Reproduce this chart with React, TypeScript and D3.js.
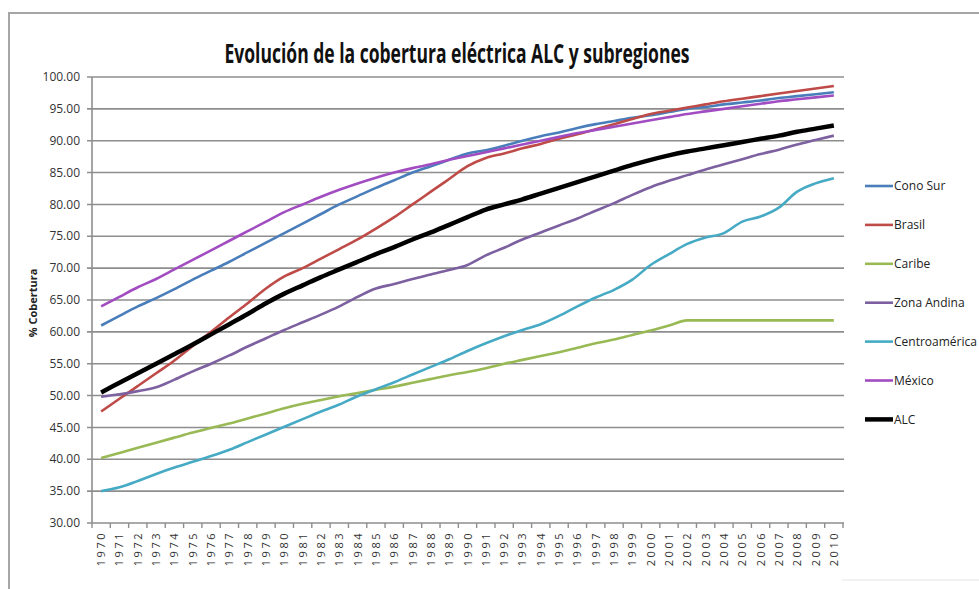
import { useRef, useEffect } from 'react';
import * as d3 from 'd3';

// Años (eje X)
const years = d3.range(1970, 2011);

// Valores de cobertura por subregión (%)
const conoSur = [61, 62.5, 64, 65.3, 66.7, 68.2, 69.6, 71, 72.5, 74, 75.5, 77, 78.5, 80, 81.3, 82.6, 83.8, 85, 86, 87, 88, 88.5, 89.2, 90, 90.7, 91.3, 92, 92.6, 93.1, 93.6, 94, 94.5, 95, 95.3, 95.7, 96, 96.3, 96.7, 97, 97.3, 97.6];
const brasil = [47.5, 49.5, 51.5, 53.5, 55.5, 57.8, 60, 62.3, 64.5, 66.8, 68.7, 70, 71.5, 73, 74.5, 76.2, 78, 80, 82, 84, 86, 87.3, 88, 88.8, 89.5, 90.3, 91, 91.8, 92.6, 93.4, 94.2, 94.7, 95.2, 95.7, 96.2, 96.6, 97, 97.4, 97.8, 98.2, 98.6];
const caribe = [40.2, 41, 41.8, 42.6, 43.4, 44.2, 44.9, 45.6, 46.4, 47.2, 48, 48.7, 49.3, 49.9, 50.4, 50.9, 51.4, 52, 52.6, 53.2, 53.7, 54.3, 55, 55.6, 56.2, 56.8, 57.5, 58.2, 58.8, 59.5, 60.2, 61, 61.8, 61.8, 61.8, 61.8, 61.8, 61.8, 61.8, 61.8, 61.8];
const zonaAndina = [49.8, 50.2, 50.7, 51.3, 52.5, 53.8, 55, 56.3, 57.7, 59, 60.3, 61.5, 62.7, 64, 65.5, 66.8, 67.5, 68.3, 69, 69.7, 70.5, 72, 73.2, 74.5, 75.6, 76.7, 77.8, 79, 80.2, 81.5, 82.7, 83.7, 84.6, 85.5, 86.3, 87.1, 87.9, 88.6, 89.4, 90.1, 90.8];
const centroamerica = [35, 35.6, 36.6, 37.7, 38.7, 39.6, 40.5, 41.5, 42.7, 43.9, 45.1, 46.3, 47.5, 48.6, 49.9, 51, 52.1, 53.3, 54.5, 55.7, 57, 58.2, 59.3, 60.3, 61.2, 62.5, 64, 65.4, 66.6, 68.2, 70.5, 72.2, 73.8, 74.8, 75.5, 77.3, 78.1, 79.5, 82, 83.3, 84.1];
const mexico = [64, 65.5, 67, 68.3, 69.8, 71.3, 72.8, 74.3, 75.8, 77.3, 78.8, 80, 81.2, 82.3, 83.3, 84.2, 85, 85.7, 86.3, 87, 87.6, 88.2, 88.8, 89.4, 90, 90.6, 91.2, 91.7, 92.2, 92.7, 93.2, 93.7, 94.2, 94.6, 95, 95.4, 95.8, 96.2, 96.5, 96.8, 97.1];
const alc = [50.5, 52, 53.5, 55, 56.5, 58, 59.6, 61.2, 62.8, 64.5, 66, 67.3, 68.6, 69.8, 71, 72.2, 73.3, 74.5, 75.6, 76.8, 78, 79.2, 80, 80.8, 81.7, 82.6, 83.5, 84.4, 85.3, 86.2, 87, 87.7, 88.3, 88.8, 89.3, 89.8, 90.3, 90.8, 91.4, 91.9, 92.4];

const seriesNames = ['Cono Sur', 'Brasil', 'Caribe', 'Zona Andina', 'Centroamérica', 'México', 'ALC'];
const seriesValues = [conoSur, brasil, caribe, zonaAndina, centroamerica, mexico, alc];
const seriesColors = ['#4a7ebb', '#be4b48', '#98b954', '#7d60a0', '#46aac5', '#a24cc2', '#000000'];

const yTicks = d3.range(30, 100.01, 5);

const W = 979;
const H = 589;
const FONT = '"Liberation Sans Narrow", "Arial Narrow", "Open Sans", sans-serif';

export default function App() {
    const svgRef = useRef<SVGSVGElement>(null);

    useEffect(() => {
        const svg = d3.select(svgRef.current)
            .attr('width', W)
            .attr('height', H)
            .html('');

        svg.append('rect').attr('width', W).attr('height', H).attr('fill', '#fff');

        // marco del gráfico
        svg.append('path')
            .attr('d', `M9,${H} V13 H${W}`)
            .attr('fill', 'none')
            .attr('stroke', '#a6a6a6')
            .attr('stroke-width', 2);
        svg.append('line')
            .attr('x1', 842).attr('x2', W)
            .attr('y1', 580).attr('y2', 580)
            .attr('stroke', '#e4e4e4');

        const x = d3.scaleBand<number>()
            .domain(years)
            .range([92, 843]);
        const y = d3.scaleLinear()
            .domain([30, 100])
            .range([523, 77]);
        const cx = (yr: number) => (x(yr) as number) + x.bandwidth() / 2;

        // líneas de cuadrícula
        svg.append('g')
            .selectAll('line')
            .data(yTicks)
            .enter()
            .append('line')
            .attr('x1', 87)
            .attr('x2', 844)
            .attr('y1', d => y(d))
            .attr('y2', d => y(d))
            .attr('stroke', '#8e8e8e')
            .attr('stroke-width', 1.6);

        // eje Y
        svg.append('line')
            .attr('x1', 92).attr('x2', 92)
            .attr('y1', y(100)).attr('y2', y(30))
            .attr('stroke', '#8e8e8e')
            .attr('stroke-width', 1.6);

        svg.append('g')
            .selectAll('text')
            .data(yTicks)
            .enter()
            .append('text')
            .attr('x', 80)
            .attr('y', d => y(d))
            .attr('dy', '0.35em')
            .attr('text-anchor', 'end')
            .attr('font-family', FONT)
            .attr('font-size', 12)
            .attr('fill', '#333')
            .text(d => d.toFixed(2));

        // marcas del eje X
        const bounds = years.map(d => x(d) as number).concat([843]);
        svg.append('g')
            .selectAll('line')
            .data(bounds)
            .enter()
            .append('line')
            .attr('x1', d => d)
            .attr('x2', d => d)
            .attr('y1', y(30))
            .attr('y2', y(30) + 5)
            .attr('stroke', '#8e8e8e')
            .attr('stroke-width', 1.4);

        svg.append('g')
            .selectAll('text')
            .data(years)
            .enter()
            .append('text')
            .attr('transform', d => `translate(${cx(d) + 4}, 531) rotate(-90)`)
            .attr('text-anchor', 'end')
            .attr('font-family', FONT)
            .attr('font-size', 11)
            .attr('letter-spacing', 2.5)
            .attr('fill', '#333')
            .text(d => String(d));

        // título del eje Y
        svg.append('text')
            .attr('transform', 'translate(37, 303) rotate(-90)')
            .attr('text-anchor', 'middle')
            .attr('font-family', FONT)
            .attr('font-weight', 'bold')
            .attr('font-size', 11)
            .attr('fill', '#222')
            .text('% Cobertura');

        // título
        svg.append('text')
            .attr('x', 457)
            .attr('y', 63)
            .attr('text-anchor', 'middle')
            .attr('font-family', FONT)
            .attr('font-weight', 'bold')
            .attr('font-size', 26)
            .attr('textLength', 465)
            .attr('lengthAdjust', 'spacingAndGlyphs')
            .attr('fill', '#111')
            .text('Evolución de la cobertura eléctrica ALC y subregiones');

        // series
        const line = d3.line<number>()
            .x((_, i) => cx(years[i]))
            .y(d => y(d))
            .curve(d3.curveMonotoneX);

        svg.append('g')
            .selectAll('path')
            .data(seriesValues)
            .enter()
            .append('path')
            .attr('d', d => line(d))
            .attr('fill', 'none')
            .attr('stroke', (_, i) => seriesColors[i])
            .attr('stroke-width', (_, i) => seriesNames[i] === 'ALC' ? 4.5 : 2.6)
            .attr('stroke-linejoin', 'round');

        // leyenda
        const legend = svg.append('g')
            .selectAll('g')
            .data(seriesNames)
            .enter()
            .append('g')
            .attr('transform', (_, i) => `translate(865, ${186 + i * 38.9})`);

        legend.append('line')
            .attr('x1', 0)
            .attr('x2', 28)
            .attr('stroke', (_, i) => seriesColors[i])
            .attr('stroke-width', (d) => d === 'ALC' ? 4.5 : 2.6);

        legend.append('text')
            .attr('x', 29)
            .attr('dy', '0.35em')
            .attr('font-family', FONT)
            .attr('font-size', 12)
            .attr('fill', '#222')
            .text(d => d);
    }, []);

    return (
        <div style={{ position: 'absolute', left: 0, top: 0 }}>
            <svg ref={svgRef}></svg>
        </div>
    );
}
